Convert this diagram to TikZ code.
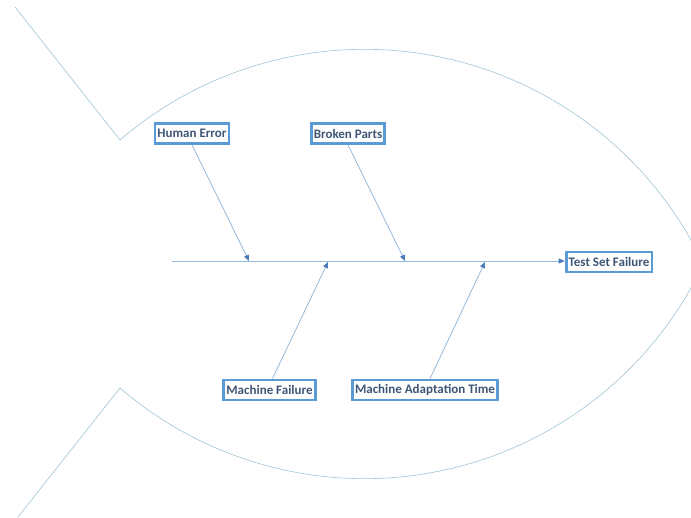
\documentclass[tikz,border=0pt]{standalone}
\usepackage{fontspec}
\setmainfont{Carlito}
\usetikzlibrary{arrows.meta,calc}
\definecolor{outlinecol}{RGB}{160,196,216}
\definecolor{spinecol}{RGB}{150,185,220}
\definecolor{tipcol}{RGB}{74,126,187}
\definecolor{boxcol}{RGB}{91,155,213}
\definecolor{textcol}{RGB}{62,86,118}
\tikzset{
  fishline/.style={draw=outlinecol, line width=0.6pt},
  bone/.style={draw=spinecol, line width=0.8pt},
  bonearrow/.style={bone, -{Triangle[length=6pt,width=5pt,color=tipcol]}},
  causebox/.style={draw=boxcol, line width=2.8pt, fill=white, text=textcol,
    font=\fontsize{13}{15}\selectfont\bfseries, inner xsep=2.5pt, inner ysep=1.5pt,
    minimum height=20pt}
}
\begin{document}
\begin{tikzpicture}[x=1pt,y=-1pt]
\clip (0,0) rectangle (691,518);
\fill[white] (0,0) rectangle (691,518);
% fish outline
\coordinate (tailtop) at (15,7);
\coordinate (jointop) at (120,140);
\coordinate (joinbot) at (120,388);
\coordinate (tailbot) at (18,517);
\draw[fishline] (tailtop) -- (jointop);
\draw[fishline] (joinbot) -- (tailbot);
\draw[fishline] (jointop) arc[start angle=-130.7, end angle=-25.3, radius=374.9];
\draw[fishline] (joinbot) arc[start angle=130.7, end angle=25.3, radius=374.9];
% boxes
\node[causebox] (he) at (192,133.5) {Human Error};
\node[causebox] (bp) at (348,133.5) {Broken Parts};
\node[causebox] (tsf) at (609,262) {Test Set Failure};
\node[causebox] (mf) at (269.5,390) {Machine Failure};
\node[causebox] (mat) at (425,390) {Machine Adaptation Time};
% spine
\coordinate (sp0) at (172,261);
\coordinate (s1) at (249,261);
\coordinate (s2) at (405,261);
\coordinate (s3) at (328,262);
\coordinate (s4) at (485,262);
\draw[bonearrow] (sp0) -- (sp0 -| tsf.west);
\draw[bonearrow] (he.south) -- (s1);
\draw[bonearrow] (bp.south) -- (s2);
\draw[bonearrow] ([xshift=3pt]mf.north) -- (s3);
\draw[bonearrow] ([xshift=5pt]mat.north) -- (s4);
\end{tikzpicture}
\end{document}
